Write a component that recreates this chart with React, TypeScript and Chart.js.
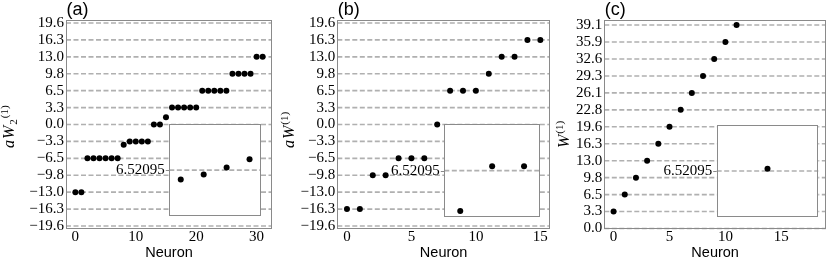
import React, { useEffect, useRef } from "react";
import { Chart, registerables } from "chart.js";
Chart.register(...registerables);

// ---------- data ----------
const neuronsA = [0, 1, 2, 3, 4, 5, 6, 7, 8, 9, 10, 11, 12, 13, 14, 15, 16, 17, 18, 19, 20, 21, 22, 23, 24, 25, 26, 27, 28, 29, 30, 31];
const weightsA = [
  -13.04, -13.04, -6.52, -6.52, -6.52, -6.52, -6.52, -6.52, -3.9, -3.26, -3.26, -3.26, -3.26, 0, 0, 1.41,
  3.26, 3.26, 3.26, 3.26, 3.26, 6.52, 6.52, 6.52, 6.52, 6.52, 9.78, 9.78, 9.78, 9.78, 13.04, 13.04,
];
const neuronsB = [0, 1, 2, 3, 4, 5, 6, 7, 8, 9, 10, 11, 12, 13, 14, 15];
const weightsB = [-16.3, -16.3, -9.78, -9.78, -6.52, -6.52, -6.52, 0, 6.52, 6.52, 6.52, 9.78, 13.04, 13.04, 16.3, 16.3];
const neuronsC = [0, 1, 2, 3, 4, 5, 6, 7, 8, 9, 10, 11];
const weightsC = [3.26, 6.52, 9.78, 13.04, 16.3, 19.56, 22.82, 26.08, 29.34, 32.6, 35.87, 39.13];

const insetXA = [0, 1, 2, 3];
const insetYA = [6.42, 6.474, 6.55, 6.64];
const insetXB = [0, 1, 2];
const insetYB = [6.088, 6.567, 6.567];
const insetXC = [0];
const insetYC = [6.546];

const yTicksAB = [-19.56, -16.3, -13.04, -9.78, -6.52, -3.26, 0, 3.26, 6.52, 9.78, 13.04, 16.3, 19.56];
const yLabelsAB = ["−19.6", "−16.3", "−13.0", "−9.8", "−6.5", "−3.3", "0.0", "3.3", "6.5", "9.8", "13.0", "16.3", "19.6"];
const yTicksC = [0, 3.26, 6.52, 9.78, 13.04, 16.3, 19.56, 22.82, 26.08, 29.34, 32.6, 35.87, 39.13];
const yLabelsC = ["0.0", "3.3", "6.5", "9.8", "13.0", "16.3", "19.6", "22.8", "26.1", "29.3", "32.6", "35.9", "39.1"];
const xTicksA = [0, 10, 20, 30];
const xLabelsA = ["0", "10", "20", "30"];
const xTicksBC = [0, 5, 10, 15];
const xLabelsBC = ["0", "5", "10", "15"];
const insetTicks = [6.52095];
const insetLabels = ["6.52095"];
const panelTags = ["(a)", "(b)", "(c)"];
const xTitle = "Neuron";
const yTitleA = [
  { text: "a", kind: "main" },
  { text: "W", kind: "main" },
  { text: "2", kind: "sub" },
  { text: "(1)", kind: "sup" },
];
const yTitleB = [
  { text: "a", kind: "main" },
  { text: "W", kind: "main" },
  { text: "(1)", kind: "sup" },
];
const yTitleC = [
  { text: "W", kind: "main" },
  { text: "(1)", kind: "sup" },
];

// ---------- styles ----------
const GRID = "#b0b0b0";
const FRAME = "#8a8a8a";
const SERIF = '"Liberation Serif", "Times New Roman", serif';
const SANS = '"Liberation Sans", Arial, sans-serif';

function drawYTitle(ctx: CanvasRenderingContext2D, parts: any[], x: number, yStart: number) {
  ctx.save();
  ctx.translate(x, yStart);
  ctx.rotate(-Math.PI / 2);
  ctx.fillStyle = "#000";
  ctx.textAlign = "left";
  ctx.textBaseline = "alphabetic";
  let cx = 0;
  for (const p of parts) {
    const main = p.kind === "main";
    ctx.font = main ? `italic 16px ${SERIF}` : `11px ${SERIF}`;
    const dy = p.kind === "sub" ? 3 : p.kind === "sup" ? -5.5 : 0;
    ctx.fillText(p.text, cx, dy);
    cx += ctx.measureText(p.text).width + 1;
  }
  ctx.restore();
}

function MainPanel({ cfg }: { cfg: any }) {
  const ref = useRef<HTMLCanvasElement | null>(null);
  useEffect(() => {
    if (!ref.current) return;
    const deco = {
      id: "deco",
      beforeDatasetsDraw(chart: any) {
        const { ctx, chartArea: a, scales } = chart;
        ctx.save();
        ctx.strokeStyle = GRID;
        ctx.lineWidth = 1.6;
        ctx.setLineDash([5, 2.5]);
        for (const t of cfg.yTicks) {
          const py = scales.y.getPixelForValue(t);
          ctx.beginPath();
          ctx.moveTo(a.left, py);
          ctx.lineTo(a.right, py);
          ctx.stroke();
        }
        ctx.restore();
      },
      afterDatasetsDraw(chart: any) {
        const { ctx, chartArea: a } = chart;
        ctx.save();
        ctx.strokeStyle = FRAME;
        ctx.lineWidth = 1;
        const l = Math.round(a.left) + 0.5;
        const t = Math.round(a.top) + 0.5;
        const r = Math.round(a.right) - 0.5;
        const b = Math.round(a.bottom) - 0.5;
        ctx.strokeRect(l, t, r - l, b - t);
        // panel tag
        ctx.fillStyle = "#000";
        ctx.font = `18px ${SANS}`;
        ctx.textAlign = "left";
        ctx.textBaseline = "alphabetic";
        ctx.fillText(cfg.tag, a.left + 0.5, 14.5);
        // x title
        ctx.font = `14.5px ${SANS}`;
        ctx.textAlign = "center";
        ctx.textBaseline = "middle";
        ctx.fillText(xTitle, (a.left + a.right) / 2, 253);
        ctx.restore();
        drawYTitle(ctx, cfg.yTitle, cfg.yTitleX, cfg.yTitleY);
      },
    };
    const chart = new Chart(ref.current, {
      type: "scatter",
      data: {
        datasets: [
          {
            data: cfg.xs.map((x: number, i: number) => ({ x, y: cfg.ys[i] })),
            backgroundColor: "#000",
            borderColor: "#000",
            pointRadius: 3,
            pointBorderWidth: 0,
            showLine: false,
          },
        ],
      },
      options: {
        animation: false,
        responsive: false,
        maintainAspectRatio: false,
        events: [],
        layout: { padding: { left: 0, right: cfg.padRight, top: 20, bottom: 0 } },
        plugins: { legend: { display: false }, tooltip: { enabled: false }, title: { display: false } },
        scales: {
          x: {
            type: "linear",
            min: cfg.xMin,
            max: cfg.xMax,
            grid: { display: false, drawTicks: false },
            border: { display: false },
            afterBuildTicks: (s: any) => {
              s.ticks = cfg.xTicks.map((v: number) => ({ value: v }));
            },
            afterFit: (s: any) => {
              s.height = 33;
              s.paddingLeft = 0;
              s.paddingRight = 0;
            },
            ticks: {
              autoSkip: false,
              maxRotation: 0,
              padding: 1,
              color: "#000",
              font: { family: SERIF, size: 15, lineHeight: 1 },
              callback: (_v: any, i: number) => cfg.xLabels[i],
            },
          },
          y: {
            type: "linear",
            min: cfg.yMin,
            max: cfg.yMax,
            grid: { display: false, drawTicks: false },
            border: { display: false },
            afterBuildTicks: (s: any) => {
              s.ticks = cfg.yTicks.map((v: number) => ({ value: v }));
            },
            afterFit: (s: any) => {
              s.width = cfg.yWidth;
              s.paddingTop = 0;
              s.paddingBottom = 0;
            },
            ticks: {
              autoSkip: false,
              padding: 2,
              color: "#000",
              font: { family: SERIF, size: 15, lineHeight: 1 },
              callback: (_v: any, i: number) => cfg.yLabels[i],
            },
          },
        },
      },
      plugins: [deco],
    } as any);
    return () => chart.destroy();
  }, [cfg]);
  return (
    <canvas
      ref={ref}
      width={cfg.width}
      height={262}
      style={{ position: "absolute", left: cfg.left, top: 0, width: cfg.width, height: 262 }}
    />
  );
}

function InsetPanel({ cfg }: { cfg: any }) {
  const ref = useRef<HTMLCanvasElement | null>(null);
  useEffect(() => {
    if (!ref.current) return;
    const deco = {
      id: "insetDeco",
      beforeDraw(chart: any) {
        const { ctx, chartArea: a } = chart;
        ctx.save();
        ctx.fillStyle = "#fff";
        ctx.fillRect(a.left, a.top, a.right - a.left, a.bottom - a.top);
        ctx.restore();
      },
      beforeDatasetsDraw(chart: any) {
        const { ctx, chartArea: a, scales } = chart;
        ctx.save();
        for (const t of insetTicks) {
          const py = scales.y.getPixelForValue(t);
          ctx.strokeStyle = GRID;
          ctx.lineWidth = 1.6;
          ctx.setLineDash([5, 2.5]);
          ctx.beginPath();
          ctx.moveTo(a.left, py);
          ctx.lineTo(a.right, py);
          ctx.stroke();
          ctx.setLineDash([]);
          ctx.strokeStyle = FRAME;
          ctx.lineWidth = 1;
          ctx.beginPath();
          ctx.moveTo(a.left - 3.5, Math.round(py) + 0.5);
          ctx.lineTo(a.left, Math.round(py) + 0.5);
          ctx.stroke();
        }
        ctx.restore();
      },
      afterDatasetsDraw(chart: any) {
        const { ctx, chartArea: a } = chart;
        ctx.save();
        ctx.strokeStyle = FRAME;
        ctx.lineWidth = 1;
        const l = Math.round(a.left) + 0.5;
        const t = Math.round(a.top) + 0.5;
        const r = Math.round(a.right) - 0.5;
        const b = Math.round(a.bottom) - 0.5;
        ctx.strokeRect(l, t, r - l, b - t);
        ctx.restore();
      },
    };
    const chart = new Chart(ref.current, {
      type: "scatter",
      data: {
        datasets: [
          {
            data: cfg.xs.map((x: number, i: number) => ({ x, y: cfg.ys[i] })),
            backgroundColor: "#000",
            borderColor: "#000",
            pointRadius: 3,
            pointBorderWidth: 0,
            showLine: false,
          },
        ],
      },
      options: {
        animation: false,
        responsive: false,
        maintainAspectRatio: false,
        events: [],
        layout: { padding: { left: 0, right: cfg.padRight, top: cfg.padTop, bottom: cfg.padBottom } },
        plugins: { legend: { display: false }, tooltip: { enabled: false }, title: { display: false } },
        scales: {
          x: { type: "linear", display: false, min: cfg.xMin, max: cfg.xMax },
          y: {
            type: "linear",
            min: cfg.yMin,
            max: cfg.yMax,
            grid: { display: false, drawTicks: false },
            border: { display: false },
            afterBuildTicks: (s: any) => {
              s.ticks = insetTicks.map((v: number) => ({ value: v }));
            },
            afterFit: (s: any) => {
              s.width = cfg.yWidth;
              s.paddingTop = 0;
              s.paddingBottom = 0;
            },
            ticks: {
              autoSkip: false,
              padding: 4.5,
              color: "#000",
              font: { family: SERIF, size: 15, lineHeight: 1 },
              callback: (_v: any, i: number) => insetLabels[i],
            },
          },
        },
      },
      plugins: [deco],
    } as any);
    return () => chart.destroy();
  }, [cfg]);
  return (
    <canvas
      ref={ref}
      width={cfg.width}
      height={cfg.height}
      style={{ position: "absolute", left: cfg.left, top: cfg.top, width: cfg.width, height: cfg.height }}
    />
  );
}

const mainA = {
  left: 0, width: 280, yWidth: 66, padRight: 8,
  xMin: -1.55, xMax: 32.55, yMin: -20.14, yMax: 20.14,
  xs: neuronsA, ys: weightsA, xTicks: xTicksA, xLabels: xLabelsA, yTicks: yTicksAB, yLabels: yLabelsAB,
  tag: panelTags[0], yTitle: yTitleA, yTitleX: 13.5, yTitleY: 148,
};
const mainB = {
  left: 280, width: 275, yWidth: 57.3, padRight: 5,
  xMin: -0.75, xMax: 15.75, yMin: -20.14, yMax: 20.14,
  xs: neuronsB, ys: weightsB, xTicks: xTicksBC, xLabels: xLabelsBC, yTicks: yTicksAB, yLabels: yLabelsAB,
  tag: panelTags[1], yTitle: yTitleB, yTitleX: 13.5, yTitleY: 148,
};
const mainC = {
  left: 555, width: 275, yWidth: 49.3, padRight: 1,
  xMin: -0.83, xMax: 19.0, yMin: -0.1, yMax: 40.1,
  xs: neuronsC, ys: weightsC, xTicks: xTicksBC, xLabels: xLabelsBC, yTicks: yTicksC, yLabels: yLabelsC,
  tag: panelTags[2], yTitle: yTitleC, yTitleX: 13.5, yTitleY: 148,
};
const insetA = {
  left: 100, top: 120, width: 165, height: 100, yWidth: 69.3, padTop: 4.3, padRight: 3.3, padBottom: 3.3,
  xMin: -0.5, xMax: 3.5, yMin: 6.02095, yMax: 7.02095, xs: insetXA, ys: insetYA,
};
const insetB = {
  left: 370, top: 119, width: 175, height: 103, yWidth: 74.3, padTop: 5, padRight: 5, padBottom: 4.7,
  xMin: -0.5, xMax: 2.5, yMin: 6.02095, yMax: 7.02095, xs: insetXB, ys: insetYB,
};
const insetC = {
  left: 640, top: 119, width: 183, height: 103, yWidth: 76.7, padTop: 5.7, padRight: 4.7, padBottom: 4.7,
  xMin: -0.5, xMax: 0.5, yMin: 6.02095, yMax: 7.02095, xs: insetXC, ys: insetYC,
};

export default function App() {
  return (
    <div style={{ position: "absolute", left: 0, top: 0, width: 830, height: 262, background: "#fff", overflow: "hidden" }}>
      <MainPanel cfg={mainA} />
      <MainPanel cfg={mainB} />
      <MainPanel cfg={mainC} />
      <InsetPanel cfg={insetA} />
      <InsetPanel cfg={insetB} />
      <InsetPanel cfg={insetC} />
    </div>
  );
}
